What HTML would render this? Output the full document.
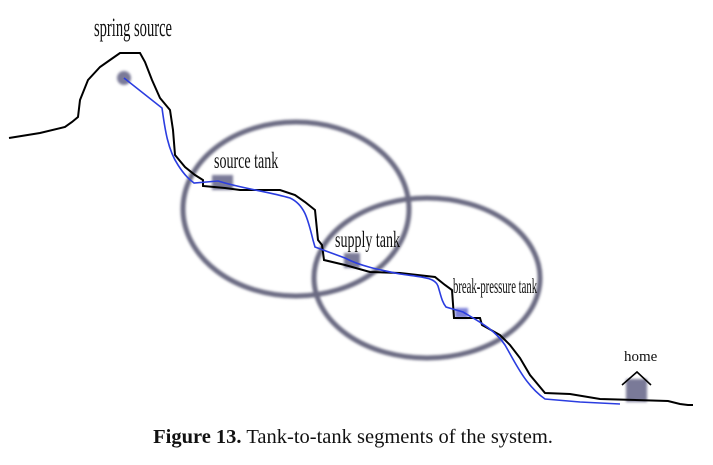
<!DOCTYPE html>
<html><head><style>
html,body{margin:0;padding:0;background:#fff;}
svg{display:block}
</style></head><body>
<svg width="713" height="465" viewBox="0 0 713 465" xmlns="http://www.w3.org/2000/svg">
<defs>
<filter id="b" x="-10%" y="-10%" width="120%" height="120%"><feGaussianBlur stdDeviation="1.2"/></filter>
</defs>
<g fill="none" stroke="#6b6b82" stroke-width="5" filter="url(#b)">
<ellipse cx="296" cy="209" rx="113" ry="87"/>
<ellipse cx="427" cy="278" rx="113" ry="80"/>
</g>
<g fill="#7a7a98" filter="url(#b)">
<circle cx="124" cy="78" r="7"/>
<rect x="212" y="175" width="21" height="15"/>
<rect x="344" y="253" width="16" height="15"/>
<rect x="455" y="308" width="13" height="10" fill="#7c80d8"/>
<rect x="626" y="379" width="21" height="23"/>
</g>
<polyline fill="none" stroke="#000" stroke-width="2" points="9,138 40,133 65,127 72,122 78,117 80,100 88,80 100,67 110,60 120,53 140,53 145,62 152,80 160,98 170,110 173,130 175,155 185,167 195,175 203,180 203,186 225,188 240,190 280,190 295,195 305,202 315,210 318,240 322,245 324,260 345,265 370,272 400,273 435,277 445,285 452,290 454,318 480,318 482,325 500,335 510,345 520,358 530,375 545,393 570,394 600,399 668,401 680,404 688,405 693,405"/>
<path fill="none" stroke="#2b3de0" stroke-width="1.6" d="M124,78 L162,108 C165,130 168,150 178,165 C185,176 190,180 194,183 L218,181 C240,188 270,192 290,198 C305,205 308,220 313,240 L315,247 L345,258 C360,266 380,270 400,274 C420,277 435,277 438,286 C441,296 442,302 446,307 L463,312 C480,322 495,330 505,345 C515,362 525,385 545,399 L580,402 L620,404"/>
<polyline fill="none" stroke="#000" stroke-width="1.6" points="622,385 637,372 651,385"/>
<g font-family="Liberation Serif, serif" fill="#111">
<text x="94" y="36" font-size="26" transform="translate(94 0) scale(0.56 1) translate(-94 0)">spring source</text>
<text x="214" y="168" font-size="23" transform="translate(214 0) scale(0.61 1) translate(-214 0)">source tank</text>
<text x="335" y="247" font-size="23" transform="translate(335 0) scale(0.61 1) translate(-335 0)">supply tank</text>
<text x="453" y="293" font-size="21" transform="translate(453 0) scale(0.51 1) translate(-453 0)">break-pressure tank</text>
<text x="624" y="361" font-size="15">home</text>
<text x="353" y="443" font-size="20.5" text-anchor="middle"><tspan font-weight="bold">Figure 13.</tspan> Tank-to-tank segments of the system.</text>
</g>
</svg>
</body></html>
